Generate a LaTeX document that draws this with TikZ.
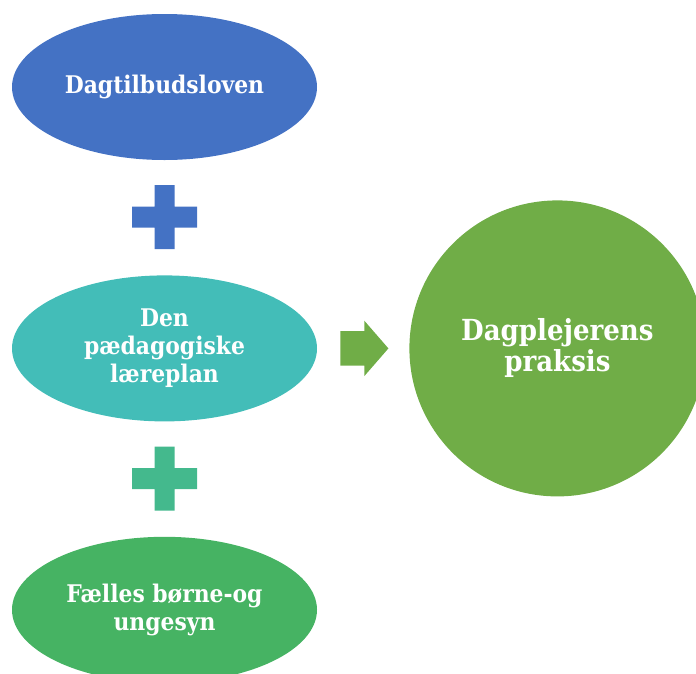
\documentclass[tikz,border=0pt]{standalone}
\usepackage{fontspec}
\setmainfont{DejaVu Serif Condensed}
\usepackage{tikz}
\usetikzlibrary{shapes,arrows,positioning}

\definecolor{lawblue}{HTML}{4472C4}
\definecolor{planteal}{HTML}{43BDB8}
\definecolor{plusmint}{HTML}{44B98D}
\definecolor{syngreen}{HTML}{46B363}
\definecolor{praxgreen}{HTML}{70AD47}

\begin{document}
\begin{tikzpicture}[
    x=1pt, y=1pt,
    node distance=115pt,
    bubble/.style={ellipse, minimum width=305pt, minimum height=146pt, inner sep=0pt, align=center, text=white, font=\bfseries\fontsize{24.3}{28}\selectfont},
    bigcircle/.style={circle, minimum size=296pt, inner sep=0pt, align=center, text=white, font=\bfseries\fontsize{29}{31}\selectfont},
    arrowshape/.style={single arrow, minimum height=48pt, minimum width=55pt, single arrow head extend=10.5pt, single arrow tip angle=98, inner xsep=0pt, inner ysep=17pt, text height=0pt, text depth=0pt}
]
\useasboundingbox (0,0) rectangle (696,-673);

% Left column
\node[bubble, fill=lawblue] (law) at (164.5,-87) {Dagtilbudsloven};
\node[bubble, fill=planteal, below=of law] (plan) {Den\\pædagogiske\\læreplan};
\node[bubble, fill=syngreen, below=of plan] (syn) {Fælles børne-og\\ungesyn};

% Plus signs
\coordinate[below=57pt of law.south] (plusA);
\coordinate[below=57pt of plan.south] (plusB);
\fill[lawblue, shift={(plusA)}] (-32.5,-10.5) rectangle (32.5,10.5) (-10,-32) rectangle (10,32);
\fill[plusmint, shift={(plusB)}] (-32.5,-10.5) rectangle (32.5,10.5) (-10,-32) rectangle (10,32);

% Result
\node[bigcircle, fill=praxgreen, right=92pt of plan] (prax) {Dagplejerens\\praksis};
\node[arrowshape, fill=praxgreen, right=23pt of plan] (arrow) {};

\end{tikzpicture}
\end{document}
